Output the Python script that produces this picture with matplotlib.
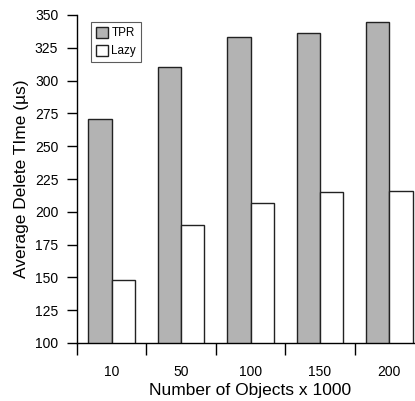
import numpy as np
import matplotlib
matplotlib.use("Agg")
import matplotlib.pyplot as plt

plt.rcParams['font.family'] = ['Liberation Sans', 'DejaVu Sans']

categories = ["10", "50", "100", "150", "200"]
tpr = [271, 310, 333, 336, 345]
lazy = [148, 190, 207, 215, 216]

fig = plt.figure(figsize=(4.15, 4.01), dpi=100)
ax = fig.add_axes([77 / 415, 58 / 401, 347 / 415, 328 / 401])

x = np.arange(len(categories))
w = 0.336
ax.bar(x - w / 2, tpr, w, bottom=0, color="#b3b3b3", edgecolor="#222222",
       linewidth=1.0, label="TPR")
ax.bar(x + w / 2, lazy, w, bottom=0, color="white", edgecolor="#222222",
       linewidth=1.0, label="Lazy")

ax.set_xlim(-0.5, len(categories) - 0.5)
ax.set_ylim(100, 350)
ax.set_yticks(np.arange(100, 351, 25))
ax.tick_params(axis="y", direction="out", length=7.5, width=1, labelsize=10, pad=6)

ax.set_xticks(x)
ax.set_xticklabels(categories)
ax.set_xticks(np.arange(-0.5, len(categories), 1.0), minor=True)
ax.tick_params(axis="x", which="major", length=0, labelsize=10, pad=16)
ax.tick_params(axis="x", which="minor", direction="out", length=8.5, width=1)

for s in ("top", "right"):
    ax.spines[s].set_visible(False)
for s in ("left", "bottom"):
    ax.spines[s].set_linewidth(1.0)

ax.set_ylabel("Average Delete TIme (µs)", fontsize=12.5, labelpad=4)
ax.set_xlabel("Number of Objects x 1000", fontsize=12.5, labelpad=3)

leg = ax.legend(loc="upper left", bbox_to_anchor=(0.04, 0.978), fontsize=8.4,
                frameon=True, fancybox=False, edgecolor="#333333",
                handlelength=1.1, handleheight=1.1, handletextpad=0.25,
                borderpad=0.4, labelspacing=0.45, borderaxespad=0)
leg.get_frame().set_linewidth(0.8)

fig.savefig("out.png", dpi=100)
